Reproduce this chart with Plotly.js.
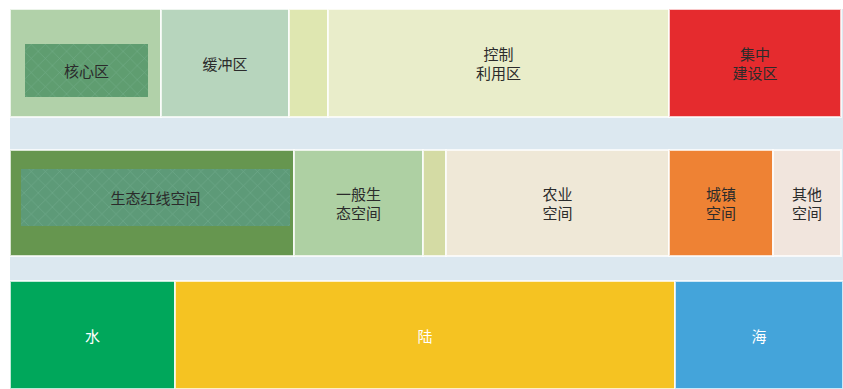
<!DOCTYPE html>
<html><head><meta charset="utf-8">
<script src="https://cdn.plot.ly/plotly-3.0.1.min.js"></script>
<style>html,body{margin:0;padding:0;background:#fff}#c{width:843px;height:389px}</style>
</head><body><div id="c"></div>
<script>
// Row 1: 管控分区
const row1Labels = ["缓冲区", "", "控制<br>利用区", "集中<br>建设区"];
const row1Lead = 151;              // 核心区 outer block width
const row1Values = [128, 39, 341, 172];
const row1Colors = ["#b7d5bd", "#dfe7b1", "#e9edca", "#e52b2e"];
// Row 2: 空间类型
const row2Lead = 284;              // 生态红线空间 outer block width
const row2Labels = ["一般生<br>态空间", "", "农业<br>空间", "城镇<br>空间", "其他<br>空间"];
const row2Values = [129, 23, 223, 104, 68];
const row2Colors = ["#aed0a3", "#d4dba4", "#efe8d7", "#ee8234", "#f1e5dd"];
// Row 3: 水 陆 海
const row3Labels = ["水", "陆", "海"];
const row3Values = [165, 500, 168];
const row3Colors = ["#00a75b", "#f5c322", "#44a4da"];
// inner textured blocks
const innerLabels = ["核心区", "生态红线空间"];
const innerOffsets = [15, 11];
const innerWidths = [123, 269];

function bases(start, vals){ const b=[]; let s=start; for(const v of vals){ b.push(s); s+=v; } return b; }

const font = "Noto Sans CJK SC, Noto Sans, sans-serif";
const edge = {color:"rgba(255,255,255,0.75)", width:2};
const txt = {family:font, size:15, color:"#2b2b2b"};

function inner(i, color){
  return [
    {type:"bar", orientation:"h", y:[i===0?61.5:188.5], x:[innerWidths[i]], base:[innerOffsets[i]], width:[i===0?53:57],
     marker:{color:color, line:{width:0},
       pattern:{shape:"x", fillmode:"overlay", fgcolor:"#8fc6ad", fgopacity:0.35, size:10, solidity:0.12}},
     text:[innerLabels[i]], textposition:"inside", insidetextanchor:"middle", constraintext:"none",
     textfont:txt, hoverinfo:"skip"}
  ];
}

const traces = [
  {type:"bar", orientation:"h", y:[54], x:[row1Lead], base:[0], width:[108],
   marker:{color:"#b1d1a9", line:edge}, text:[""], hoverinfo:"skip"},
  {type:"bar", orientation:"h", y:row1Values.map(()=>54), x:row1Values, base:bases(row1Lead,row1Values),
   width:row1Values.map(()=>108), marker:{color:row1Colors, line:edge},
   text:row1Labels, textposition:"inside", insidetextanchor:"middle", constraintext:"none",
   textfont:txt, hoverinfo:"skip"},
  {type:"bar", orientation:"h", y:[194], x:[row2Lead], base:[0], width:[106],
   marker:{color:"#66964f", line:edge}, text:[""], hoverinfo:"skip"},
  {type:"bar", orientation:"h", y:row2Values.map(()=>194), x:row2Values, base:bases(row2Lead,row2Values),
   width:row2Values.map(()=>106), marker:{color:row2Colors, line:edge},
   text:row2Labels, textposition:"inside", insidetextanchor:"middle", constraintext:"none",
   textfont:txt, hoverinfo:"skip"},
  {type:"bar", orientation:"h", y:row3Values.map(()=>326), x:row3Values, base:bases(0,row3Values),
   width:row3Values.map(()=>108), marker:{color:row3Colors, line:edge},
   text:row3Labels, textposition:"inside", insidetextanchor:"middle", constraintext:"none",
   textfont:{family:font, size:15, color:"#ffffff"}, hoverinfo:"skip"},
  ...inner(0, "#5f9d70"),
  ...inner(1, "#5d9a78")
];

const layout = {
  width:843, height:389,
  margin:{l:10, r:0, t:9, b:0, pad:0},
  paper_bgcolor:"#ffffff", plot_bgcolor:"#dce8f0",
  barmode:"overlay", showlegend:false,
  xaxis:{range:[0,833], visible:false, fixedrange:true},
  yaxis:{range:[380,0], visible:false, fixedrange:true}
};
Plotly.newPlot("c", traces, layout, {staticPlot:true, displayModeBar:false});
</script></body></html>
